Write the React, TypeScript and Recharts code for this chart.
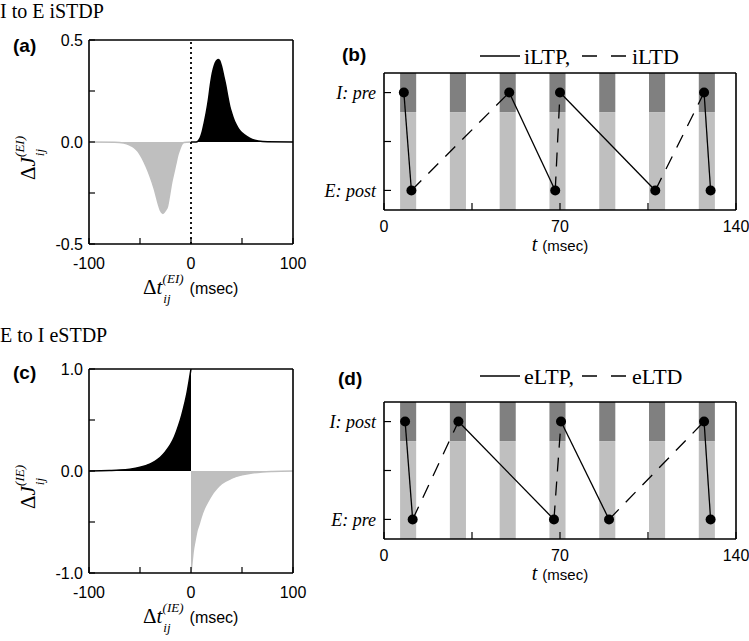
import React from "react";
import {
  ComposedChart,
  Area,
  Line,
  Scatter,
  XAxis,
  YAxis,
  ReferenceArea,
  ReferenceLine,
  Legend,
} from "recharts";

const SERIF = '"Liberation Serif", "Times New Roman", serif';
const SANS = '"Liberation Sans", Arial, sans-serif';
const GRAY = "#bfbfbf";
const DARK = "#808080";

// ---- (a) I to E iSTDP window (black = iLTP, gray = iLTD)
const eiLtpT = [0, 5, 7, 9, 11, 13, 15, 17, 19, 21, 23, 25, 26.5, 28, 30, 32, 34, 36, 38, 40, 42, 44, 47, 50, 55, 60, 66, 75, 100];
const eiLtpJ = [0, 0, 0.005, 0.02, 0.05, 0.095, 0.145, 0.205, 0.28, 0.34, 0.378, 0.398, 0.405, 0.4, 0.37, 0.325, 0.28, 0.225, 0.175, 0.14, 0.11, 0.088, 0.062, 0.045, 0.026, 0.013, 0.005, 0.001, 0];
const eiLtdT = [-100, -75, -66, -60, -56, -52, -48, -44, -40, -36, -32, -30, -27.5, -25, -23, -21, -19, -17, -15, -13, -11, -9, -7, 0];
const eiLtdJ = [0, -0.001, -0.005, -0.015, -0.026, -0.045, -0.078, -0.12, -0.17, -0.23, -0.305, -0.335, -0.35, -0.335, -0.315, -0.26, -0.2, -0.155, -0.11, -0.065, -0.035, -0.012, -0.003, 0];

// ---- (c) E to I eSTDP window (black = eLTP, gray = eLTD)
const ieLtpT = [-100, -80, -70, -60, -50, -40, -35, -30, -25, -20, -16, -12, -9, -6, -4, -2, 0];
const ieLtpJ = [0.001, 0.005, 0.009, 0.018, 0.036, 0.07, 0.097, 0.135, 0.19, 0.26, 0.34, 0.45, 0.55, 0.67, 0.76, 0.875, 1.0];
const ieLtdT = [0, 1, 2, 4, 6, 8, 10, 13, 16, 20, 25, 30, 40, 50, 60, 70, 80, 100];
const ieLtdJ = [-1.0, -0.9, -0.8, -0.68, -0.58, -0.52, -0.45, -0.37, -0.31, -0.24, -0.175, -0.125, -0.07, -0.038, -0.02, -0.01, -0.005, -0.001];

const windowTicks = [-100, -50, 0, 50, 100];

// ---- (b), (d) spike trains
const stripeStarts = [6.4, 26.2, 46, 65.8, 85.6, 105.4, 125.2];
const stripeWidth = 6.4;
const stripeSplit = 0.8;
const cellDomain = [-0.2, 1.2];
const cellTicks = [0, 0.5, 1];
const timeTicks = [0, 35, 70, 105, 140];

// cell: 1 = I (top row), 0 = E (bottom row)
const bTimes = [7.9, 10.9, 49.8, 68.1, 70, 107.9, 127.3, 129.9];
const bCells = [1, 0, 1, 0, 1, 0, 1, 0];
const bKinds = ["LTP", "LTD", "LTP", "LTD", "LTP", "LTD", "LTP"];
const bRowNames = ["E: post", "", "I: pre"];
const bLegend = ["iLTP", "iLTD"];

const dTimes = [8.4, 11.4, 29.6, 67.6, 70.4, 89.5, 127.3, 129.9];
const dCells = [1, 0, 1, 0, 1, 0, 1, 0];
const dKinds = ["LTP", "LTD", "LTP", "LTD", "LTP", "LTD", "LTP"];
const dRowNames = ["E: pre", "", "I: post"];
const dLegend = ["eLTP", "eLTD"];

const zip = (ts: number[], vs: number[]) => ts.map((t, i) => ({ t, j: vs[i] }));

const frame = { stroke: "#000", strokeWidth: 1.6 };
const tickLn = { stroke: "#000", strokeWidth: 1.2 };

function DeltaY({ viewBox, sup }: any) {
  if (!viewBox) return null;
  const px = viewBox.x + viewBox.width - 54;
  const py = viewBox.y + 140;
  return (
    <text x={px} y={py} transform={`rotate(-90 ${px} ${py})`} fontFamily={SERIF} fontSize={21} fill="#000">
      Δ<tspan fontStyle="italic">J</tspan>
      <tspan fontStyle="italic" fontSize={13} dx={1} dy={9}>ij</tspan>
      <tspan fontStyle="italic" fontSize={13} dx={-8} dy={-20}>({sup})</tspan>
    </text>
  );
}

function DeltaX({ viewBox, sup }: any) {
  if (!viewBox) return null;
  return (
    <text x={viewBox.x + 54} y={viewBox.y + 50} fontFamily={SERIF} fontSize={21} fill="#000">
      Δ<tspan fontStyle="italic">t</tspan>
      <tspan fontStyle="italic" fontSize={13} dx={1} dy={9}>ij</tspan>
      <tspan fontStyle="italic" fontSize={13} dx={-8} dy={-20}>({sup})</tspan>
      <tspan fontFamily={SANS} fontSize={16} dx={6} dy={11}>(msec)</tspan>
    </text>
  );
}

function TimeTitle({ viewBox }: any) {
  if (!viewBox) return null;
  return (
    <text x={viewBox.x + viewBox.width / 2} y={viewBox.y + 41} textAnchor="middle" fill="#000">
      <tspan fontFamily={SERIF} fontStyle="italic" fontSize={20}>t</tspan>
      <tspan fontFamily={SANS} fontSize={15} dx={5}>(msec)</tspan>
    </text>
  );
}

function WindowPanel({ top, ltp, ltd, yMax, sup, dotted }: any) {
  const yTicks = [-yMax, -yMax / 2, 0, yMax / 2, yMax];
  const yFmt = (v: number) => (v === 0 || Math.abs(v) === yMax ? v.toFixed(1) : "");
  const xFmt = (v: number) => (v % 100 === 0 ? String(v) : "");
  return (
    <div style={{ position: "absolute", left: 0, top }}>
      <ComposedChart width={330} height={310} margin={{ top: 39, right: 36, bottom: 65, left: 88 }}>
        <Area data={ltd} dataKey="j" type="monotone" baseValue={0} fill={GRAY} fillOpacity={1}
          stroke={GRAY} strokeWidth={1.5} dot={false} activeDot={false} isAnimationActive={false} />
        <Area data={ltp} dataKey="j" type="monotone" baseValue={0} fill="#000" fillOpacity={1}
          stroke="#000" strokeWidth={1.5} dot={false} activeDot={false} isAnimationActive={false} />
        {dotted && <ReferenceLine x={0} stroke="#000" strokeWidth={1.8} strokeDasharray="2 3" />}
        <XAxis dataKey="t" type="number" domain={[-100, 100]} allowDataOverflow ticks={windowTicks}
          tickFormatter={xFmt} height={1} tickSize={-6} tickMargin={20} axisLine={frame} tickLine={tickLn}
          tick={{ fill: "#000", fontSize: 16, fontFamily: SANS }} label={<DeltaX sup={sup} />} />
        <XAxis xAxisId="top" orientation="top" type="number" domain={[-100, 100]} allowDataOverflow
          ticks={windowTicks} tick={false} height={1} tickSize={-6} axisLine={frame} tickLine={tickLn} />
        <YAxis type="number" domain={[-yMax, yMax]} allowDataOverflow ticks={yTicks} tickFormatter={yFmt}
          width={1} tickSize={-6} tickMargin={12} axisLine={frame} tickLine={tickLn}
          tick={{ fill: "#000", fontSize: 16, fontFamily: SANS }} label={<DeltaY sup={sup} />} />
        <YAxis yAxisId="right" orientation="right" type="number" domain={[-yMax, yMax]} allowDataOverflow
          ticks={yTicks} tick={false} width={1} tickSize={-6} axisLine={frame} tickLine={tickLn} />
      </ComposedChart>
    </div>
  );
}

function PlasticityLegend({ names }: any) {
  return (
    <svg width={220} height={28} style={{ display: "block", overflow: "visible" }}>
      <line x1={0} x2={40} y1={12} y2={12} stroke="#000" strokeWidth={1.3} />
      <text x={44} y={20} fontFamily={SERIF} fontSize={22} fill="#000">{names[0]},</text>
      <line x1={102} x2={146} y1={12} y2={12} stroke="#000" strokeWidth={1.3} strokeDasharray="15 14" />
      <text x={152} y={20} fontFamily={SERIF} fontSize={22} fill="#000">{names[1]}</text>
    </svg>
  );
}

function SpikePanel({ top, times, cells, kinds, rowNames, legend, legendTop }: any) {
  const points = times.map((t: number, i: number) => ({ t, y: cells[i] }));
  const segments = kinds.map((k: string, i: number) => ({ kind: k, data: [points[i], points[i + 1]] }));
  const xFmt = (v: number) => (v % 70 === 0 ? String(v) : "");
  const rowTick = (p: any) => (
    <text x={p.x} y={p.y} dy="0.35em" textAnchor="end" fontFamily={SERIF} fontStyle="italic" fontSize={18} fill="#000">
      {rowNames[cellTicks.indexOf(p.payload.value)]}
    </text>
  );
  return (
    <div style={{ position: "absolute", left: 310, top }}>
      <ComposedChart width={439} height={250} margin={{ top: 42, right: 12, bottom: 69, left: 73 }}>
        {stripeStarts.map((s) => (
          <ReferenceArea key={"l" + s} x1={s} x2={s + stripeWidth} y1={cellDomain[0]} y2={stripeSplit}
            fill={GRAY} fillOpacity={1} stroke="none" />
        ))}
        {stripeStarts.map((s) => (
          <ReferenceArea key={"d" + s} x1={s} x2={s + stripeWidth} y1={stripeSplit} y2={cellDomain[1]}
            fill={DARK} fillOpacity={1} stroke="none" />
        ))}
        {segments.map((s: any, i: number) => (
          <Line key={i} data={s.data} dataKey="y" type="linear" stroke="#000" strokeWidth={1.3}
            strokeDasharray={s.kind === "LTD" ? "14 10" : undefined} dot={false} activeDot={false}
            isAnimationActive={false} />
        ))}
        <Scatter data={points} dataKey="y" isAnimationActive={false}
          shape={(p: any) => <circle cx={p.cx} cy={p.cy} r={5} fill="#000" />} />
        <XAxis dataKey="t" type="number" domain={[0, 140]} allowDataOverflow ticks={timeTicks}
          tickFormatter={xFmt} height={1} tickSize={-7} tickMargin={18} axisLine={frame} tickLine={tickLn}
          tick={{ fill: "#000", fontSize: 16, fontFamily: SANS }} label={<TimeTitle />} />
        <XAxis xAxisId="top" orientation="top" type="number" domain={[0, 140]} allowDataOverflow
          ticks={timeTicks} tick={false} height={1} tickSize={-7} axisLine={frame} tickLine={tickLn} />
        <YAxis dataKey="y" type="number" domain={cellDomain} allowDataOverflow ticks={cellTicks}
          width={1} tickSize={-7} tickMargin={15} axisLine={frame} tickLine={tickLn} tick={rowTick} />
        <YAxis yAxisId="right" orientation="right" type="number" domain={cellDomain} allowDataOverflow
          ticks={cellTicks} tick={false} width={1} tickSize={-7} axisLine={frame} tickLine={tickLn} />
        <Legend layout="vertical" align="center" verticalAlign="middle"
          wrapperStyle={{ position: "absolute", left: 170, top: legendTop, width: "auto" }}
          content={() => <PlasticityLegend names={legend} />} />
      </ComposedChart>
    </div>
  );
}

export default function App() {
  return (
    <div style={{ position: "absolute", left: 0, top: 0, width: 749, height: 641, background: "#fff", overflow: "hidden" }}>
      <WindowPanel top={0} ltp={zip(eiLtpT, eiLtpJ)} ltd={zip(eiLtdT, eiLtdJ)} yMax={0.5} sup="EI" dotted />
      <WindowPanel top={329} ltp={zip(ieLtpT, ieLtpJ)} ltd={zip(ieLtdT, ieLtdJ)} yMax={1} sup="IE" dotted={false} />
      <SpikePanel top={30} times={bTimes} cells={bCells} kinds={bKinds} rowNames={bRowNames} legend={bLegend} legendTop={14} />
      <SpikePanel top={359} times={dTimes} cells={dCells} kinds={dKinds} rowNames={dRowNames} legend={dLegend} legendTop={5} />
      <svg width={749} height={641} style={{ position: "absolute", left: 0, top: 0, pointerEvents: "none" }}>
        <text x={0} y={18} fontFamily={SERIF} fontSize={20} fill="#000">I to E iSTDP</text>
        <text x={0} y={342} fontFamily={SERIF} fontSize={20} fill="#000">E to I eSTDP</text>
        <text x={13} y={52} fontFamily={SANS} fontWeight="bold" fontSize={19} fill="#000">(a)</text>
        <text x={13} y={379} fontFamily={SANS} fontWeight="bold" fontSize={19} fill="#000">(c)</text>
        <text x={342} y={61} fontFamily={SANS} fontWeight="bold" fontSize={19} fill="#000">(b)</text>
        <text x={338} y={385} fontFamily={SANS} fontWeight="bold" fontSize={19} fill="#000">(d)</text>
      </svg>
    </div>
  );
}
